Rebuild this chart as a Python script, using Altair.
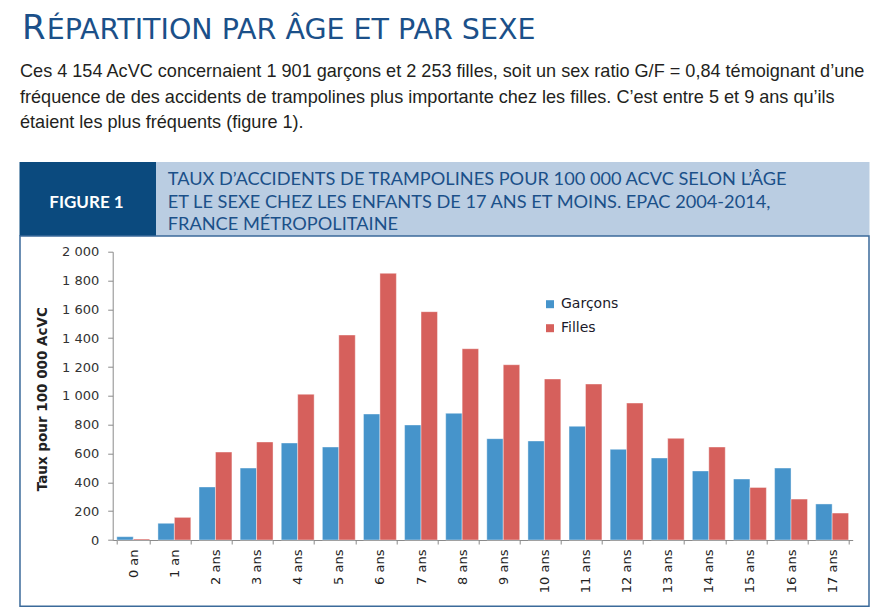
import altair as alt
import pandas as pd

# ---- data ----
ages = ["0 an", "1 an", "2 ans", "3 ans", "4 ans", "5 ans", "6 ans", "7 ans", "8 ans",
        "9 ans", "10 ans", "11 ans", "12 ans", "13 ans", "14 ans", "15 ans", "16 ans", "17 ans"]
garcons = [23, 116, 368, 499, 673, 645, 874, 798, 879, 703, 687, 789, 629, 569, 479, 423, 499, 250]
filles = [7, 157, 610, 680, 1011, 1422, 1850, 1584, 1327, 1216, 1117, 1082, 950, 705, 645, 365, 284, 187]
series = ["Garçons", "Filles"]
colors = ["#4694CB", "#D6605C"]
y_ticks = list(range(0, 2001, 200))

title_big = "R"
title_rest = "ÉPARTITION PAR ÂGE ET PAR SEXE"
body_lines = [
    "Ces 4 154 AcVC concernaient 1 901 garçons et 2 253 filles, soit un sex ratio G/F = 0,84 témoignant d’une",
    "fréquence de des accidents de trampolines plus importante chez les filles. C’est entre 5 et 9 ans qu’ils",
    "étaient les plus fréquents (figure 1).",
]
fig_label = "FIGURE 1"
fig_title = [
    "TAUX D’ACCIDENTS DE TRAMPOLINES POUR 100 000 ACVC SELON L’ÂGE",
    "ET LE SEXE CHEZ LES ENFANTS DE 17 ANS ET MOINS. EPAC 2004-2014,",
    "FRANCE MÉTROPOLITAINE",
]
y_title = "Taux pour 100 000 AcVC"

rows = []
for a, g, f in zip(ages, garcons, filles):
    rows.append({"age": a, "sexe": "Garçons", "taux": g})
    rows.append({"age": a, "sexe": "Filles", "taux": f})
df = pd.DataFrame(rows)

one = alt.Data(values=[{}])
DARK = "#0B4A7E"
LIGHT = "#BACDE2"
TBLUE = "#1B5089"


def txt(s, x, y, size, color, font, weight="normal", align="left"):
    return alt.Chart(one).mark_text(
        text=s, align=align, baseline="alphabetic", fontSize=size, font=font,
        color=color, fontWeight=weight
    ).encode(x=alt.value(x), y=alt.value(y))


def box(x, x2, y, y2, **kw):
    return alt.Chart(one).mark_rect(**kw).encode(
        x=alt.value(x), x2=alt.value(x2), y=alt.value(y), y2=alt.value(y2))


layers = [
    box(-93.2, 43.3, -89.7, -15.7, color=DARK),
    box(43.3, 756.8, -89.7, -15.7, color=LIGHT),
    box(-92.7, 756.3, -15.7, 354.5, fill=None, fillOpacity=0, stroke="#3B6A9A", strokeWidth=1.5),
]

bars = alt.Chart(df).mark_bar(stroke="white", strokeWidth=0.8, strokeOpacity=0.5).encode(
    x=alt.X("age:N", sort=ages, title=None,
            scale=alt.Scale(paddingInner=0.2, paddingOuter=0.1),
            axis=alt.Axis(labelAngle=-90, tickBand="extent", tickSize=4, labelPadding=5,
                          labelFont="DejaVu Sans", labelFontSize=13, labelColor="#222222",
                          domainColor="#8A8A8A", tickColor="#8A8A8A")),
    xOffset=alt.XOffset("sexe:N", sort=series,
                        scale=alt.Scale(paddingInner=0, paddingOuter=0)),
    y=alt.Y("taux:Q", scale=alt.Scale(domain=[0, 2000], nice=False),
            axis=alt.Axis(values=y_ticks, grid=False, tickSize=5, labelPadding=9,
                          labelExpr="replace(format(datum.value, ','), ',', ' ')",
                          labelFont="DejaVu Sans", labelFontSize=13, labelColor="#333333",
                          domainColor="#8A8A8A", tickColor="#8A8A8A",
                          title=y_title, titleFont="DejaVu Sans", titleFontSize=13.5,
                          titleFontWeight="bold", titleColor="#222222",
                          titleAngle=-90, titleX=-62.7, titleY=147, titleAlign="center",
                          titleBaseline="bottom")),
    color=alt.Color("sexe:N", sort=series,
                    scale=alt.Scale(domain=series, range=colors),
                    legend=alt.Legend(title=None, orient="none", legendX=430.3, legendY=45.5,
                                      symbolType="square", symbolSize=64, symbolStrokeWidth=0,
                                      labelFont="DejaVu Sans", labelFontSize=14,
                                      labelColor="#1a1a2a", rowPadding=10, labelOffset=4,
                                      padding=0)),
)
layers.append(bars)

# title (small caps imitation)
layers.append(txt(title_big, -90.7, -212.4, 34, TBLUE, "DejaVu Sans"))
layers.append(txt(title_rest, -66.0, -212.4, 28.5, TBLUE, "DejaVu Sans"))
# body text
for line, yy in zip(body_lines, [-174.7, -148.7, -123.7]):
    layers.append(txt(line, -92.7, yy, 18.1, "#231F20", "Liberation Sans"))
# figure header
layers.append(txt(fig_label, -26.2, -43.7, 17, "white", "Lato", weight="bold", align="center"))
for line, yy in zip(fig_title, [-66.7, -44.2, -21.7]):
    layers.append(txt(line, 55.0, yy, 18.2, TBLUE, "Lato"))

chart = alt.layer(*layers).properties(
    width=740, height=288.3,
    padding={"left": 104.7, "top": 243.7, "right": 22.3, "bottom": 67},
    autosize=alt.AutoSizeParams(type="none"),
).configure_view(stroke=None)

chart.save("out.html", embed_options={"renderer": "svg", "actions": False})
